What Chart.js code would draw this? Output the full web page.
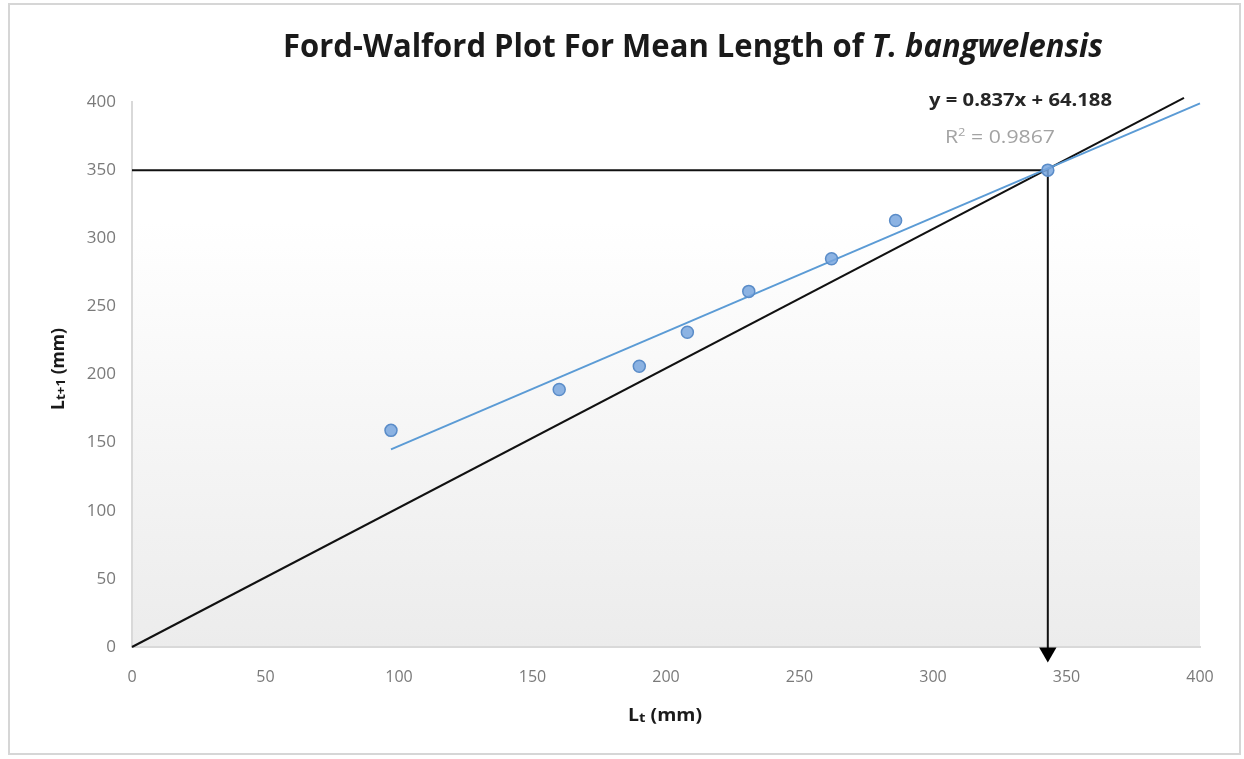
<!DOCTYPE html>
<html>
<head>
<meta charset="utf-8">
<script src="https://cdn.jsdelivr.net/npm/chart.js@4.4.1/dist/chart.umd.min.js"></script>
<style>
  html, body { margin: 0; padding: 0; background: #fff; }
  #wrap { position: relative; width: 1244px; height: 759px; }
</style>
</head>
<body>
<div id="wrap"><canvas id="fwChart" width="1244" height="759"></canvas></div>
<script>
// Datos (Lt, Lt+1)
const lengthT = [97, 160, 190, 208, 231, 262, 286, 343];
const lengthT1 = [159, 189, 206, 231, 261, 285, 313, 350];

// Linea de tendencia y = 0.837x + 64.188 (extremos leidos)
const trendX = [97, 400];
const trendY = [145, 399];

// Linea 45 grados y guias hacia Linf
const diagX = [0, 394];
const diagY = [0, 403];
const guideX = [0, 343, 343];
const guideY = [350, 350, -3];
const arrowX = [343];
const arrowY = [-4];

const axisTicks = [0, 50, 100, 150, 200, 250, 300, 350, 400];

const titleText = 'Ford-Walford Plot For Mean Length of ';
const titleItalic = 'T. bangwelensis';
const equationText = 'y = 0.837x + 64.188';
const r2Text = ' = 0.9867';

const toPoints = (xs, ys) => xs.map((x, i) => ({ x: x, y: ys[i] }));

// Fondo con degradado y marco exterior
const backgroundPlugin = {
    id: 'fwBackground',
    beforeDraw(chart) {
        const { ctx, chartArea } = chart;
        ctx.save();
        ctx.fillStyle = '#ffffff';
        ctx.fillRect(0, 0, chart.width, chart.height);
        ctx.strokeStyle = '#d6d6d6';
        ctx.lineWidth = 2;
        ctx.strokeRect(9, 4, 1231, 750);
        const g = ctx.createLinearGradient(0, chartArea.top, 0, chartArea.bottom);
        g.addColorStop(0, '#ffffff');
        g.addColorStop(0.22, '#ffffff');
        g.addColorStop(1, '#ececec');
        ctx.fillStyle = g;
        ctx.fillRect(chartArea.left, chartArea.top, chartArea.right - chartArea.left, chartArea.bottom - chartArea.top);
        ctx.restore();
    }
};

// Textos: titulo, ecuacion, R2 y titulos de ejes con subindices
const textPlugin = {
    id: 'fwTexts',
    afterDraw(chart) {
        const ctx = chart.ctx;
        ctx.save();
        ctx.textBaseline = 'alphabetic';

        // Titulo
        const fNormal = 'bold 32px "Open Sans", sans-serif';
        const fItalic = 'italic bold 32px "Open Sans", sans-serif';
        ctx.font = fNormal;
        const w1 = ctx.measureText(titleText).width;
        ctx.font = fItalic;
        const w2 = ctx.measureText(titleItalic).width;
        const sx = 820 / (w1 + w2);
        ctx.save();
        ctx.translate(283, 57);
        ctx.scale(sx, 1);
        ctx.fillStyle = '#1a1a1a';
        ctx.textAlign = 'left';
        ctx.font = fNormal;
        ctx.fillText(titleText, 0, 0);
        ctx.font = fItalic;
        ctx.fillText(titleItalic, w1, 0);
        ctx.restore();

        // Ecuacion
        ctx.font = 'bold 18px "Open Sans", sans-serif';
        const we = ctx.measureText(equationText).width;
        ctx.save();
        ctx.translate(929, 106);
        ctx.scale(183 / we, 1);
        ctx.fillStyle = '#262626';
        ctx.fillText(equationText, 0, 0);
        ctx.restore();

        // R2
        ctx.save();
        ctx.fillStyle = '#a3a3a3';
        ctx.font = '18px "Open Sans", sans-serif';
        const wr = ctx.measureText('R').width;
        ctx.font = '11px "Open Sans", sans-serif';
        const ws = ctx.measureText('2').width;
        ctx.font = '18px "Open Sans", sans-serif';
        const wt = ctx.measureText(r2Text).width;
        ctx.translate(945, 143);
        ctx.scale(110 / (wr + ws + wt), 1);
        ctx.fillText('R', 0, 0);
        ctx.fillText(r2Text, wr + ws, 0);
        ctx.font = '11px "Open Sans", sans-serif';
        ctx.fillText('2', wr, -7);
        ctx.restore();

        // Titulos de ejes
        const drawSub = (main, sub, rest, cx, cy, rot, target) => {
            ctx.save();
            ctx.translate(cx, cy);
            ctx.rotate(rot);
            ctx.fillStyle = '#1a1a1a';
            ctx.font = 'bold 17px "Open Sans", sans-serif';
            const a = ctx.measureText(main).width;
            const c = ctx.measureText(rest).width;
            ctx.font = 'bold 13px "Open Sans", sans-serif';
            const b = ctx.measureText(sub).width;
            const total = a + b + c;
            ctx.scale(target / total, 1);
            const x0 = -total / 2;
            ctx.font = 'bold 17px "Open Sans", sans-serif';
            ctx.fillText(main, x0, 6);
            ctx.fillText(rest, x0 + a + b, 6);
            ctx.font = 'bold 13px "Open Sans", sans-serif';
            ctx.fillText(sub, x0 + a, 7);
            ctx.restore();
        };
        drawSub('L', 't', ' (mm)', 665, 715, 0, 74);
        drawSub('L', 't+1', ' (mm)', 58, 369, -Math.PI / 2, 82);
        ctx.restore();
    }
};

const ctx = document.getElementById('fwChart').getContext('2d');
new Chart(ctx, {
    type: 'scatter',
    data: {
        datasets: [
            {
                label: 'Lt+1',
                data: toPoints(lengthT, lengthT1),
                backgroundColor: 'rgba(120, 166, 222, 0.85)',
                borderColor: '#5a8cc8',
                borderWidth: 1.5,
                pointRadius: 6,
                order: 1
            },
            {
                label: 'Tendencia',
                type: 'line',
                data: toPoints(trendX, trendY),
                borderColor: '#5b9bd5',
                borderWidth: 2,
                pointRadius: 0,
                clip: false,
                order: 2
            },
            {
                label: 'Diagonal',
                type: 'line',
                data: toPoints(diagX, diagY),
                borderColor: '#111111',
                borderWidth: 2,
                pointRadius: 0,
                clip: false,
                order: 3
            },
            {
                label: 'Guias',
                type: 'line',
                data: toPoints(guideX, guideY),
                borderColor: '#111111',
                borderWidth: 2,
                pointRadius: 0,
                clip: false,
                order: 3
            },
            {
                label: 'Flecha',
                data: toPoints(arrowX, arrowY),
                pointStyle: 'triangle',
                rotation: 180,
                pointRadius: 10,
                backgroundColor: '#000000',
                borderColor: '#000000',
                borderWidth: 0,
                clip: false,
                order: 0
            }
        ]
    },
    options: {
        responsive: false,
        animation: false,
        layout: { padding: { left: 0, top: 102, right: 44, bottom: 0 } },
        plugins: {
            legend: { display: false },
            tooltip: { enabled: false },
            title: { display: false }
        },
        scales: {
            x: {
                type: 'linear',
                min: 0,
                max: 400,
                afterFit: (scale) => { scale.height = 112; },
                afterBuildTicks: (scale) => { scale.ticks = axisTicks.map(v => ({ value: v })); },
                grid: { display: false, drawTicks: false },
                border: { display: true, color: '#d9d9d9', width: 2 },
                ticks: {
                    padding: 21,
                    color: '#7a7a7a',
                    font: { family: '"Open Sans", sans-serif', size: 16 }
                }
            },
            y: {
                type: 'linear',
                min: 0,
                max: 400,
                afterFit: (scale) => { scale.width = 132; },
                afterBuildTicks: (scale) => { scale.ticks = axisTicks.map(v => ({ value: v })); },
                grid: { display: false, drawTicks: false },
                border: { display: true, color: '#d9d9d9', width: 2 },
                ticks: {
                    padding: 16,
                    color: '#7a7a7a',
                    font: { family: '"Open Sans", sans-serif', size: 17 }
                }
            }
        }
    },
    plugins: [backgroundPlugin, textPlugin]
});
</script>
</body>
</html>
